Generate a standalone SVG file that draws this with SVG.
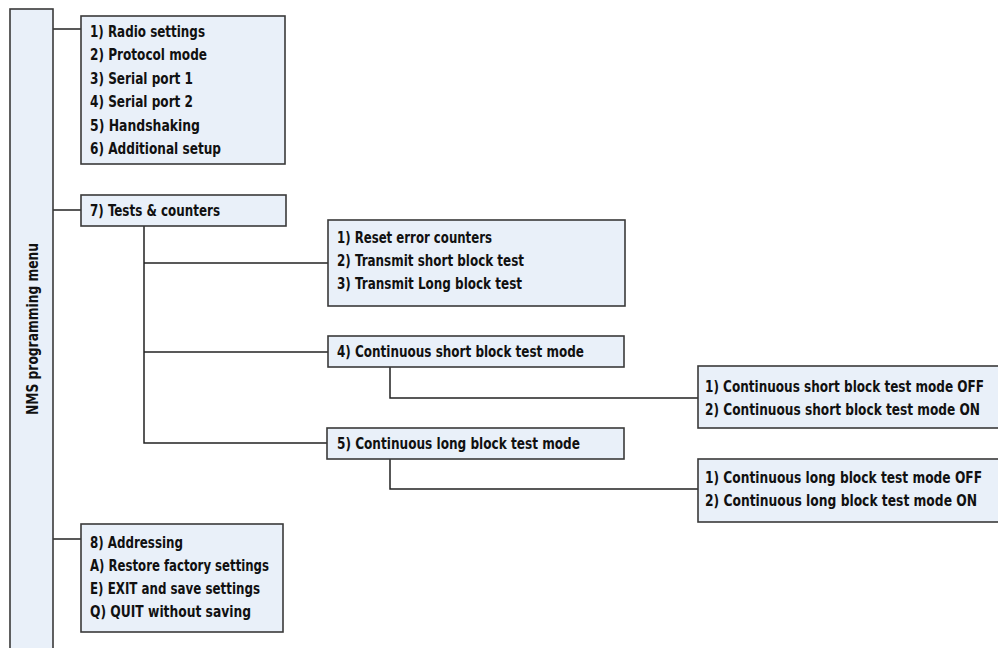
<svg xmlns="http://www.w3.org/2000/svg" width="998" height="648" viewBox="0 0 998 648">
<style>
.box{fill:#e9f0f9;stroke:#3a3a3a;stroke-width:1.6}
.t{font-family:"Liberation Sans Narrow","DejaVu Sans Condensed","DejaVu Sans",sans-serif;font-weight:bold;font-size:16px;fill:#111111}
.c{fill:none;stroke:#222;stroke-width:1.5}
</style>
<rect width="998" height="648" fill="#ffffff"/>
<g id="connectors">
<path class="c" d="M53 29H81"/>
<path class="c" d="M53 210H81"/>
<path class="c" d="M53 539H81"/>
<path class="c" d="M144 226V443H327"/>
<path class="c" d="M144 263H328"/>
<path class="c" d="M144 352H328"/>
<path class="c" d="M390 367V398H698"/>
<path class="c" d="M390 459V489H698"/>
</g>
<g id="root">
<rect class="box" x="10" y="9" width="43" height="650"/>
<text class="t" transform="translate(38,415) rotate(-90)" textLength="172" lengthAdjust="spacingAndGlyphs">NMS programming menu</text>
</g>
<g id="n-setup">
<rect class="box" x="81" y="16" width="204" height="148"/>
<text class="t" x="90" y="37" textLength="115" lengthAdjust="spacingAndGlyphs">1) Radio settings</text>
<text class="t" x="90" y="60.4" textLength="117" lengthAdjust="spacingAndGlyphs">2) Protocol mode</text>
<text class="t" x="90" y="83.8" textLength="103" lengthAdjust="spacingAndGlyphs">3) Serial port 1</text>
<text class="t" x="90" y="107.2" textLength="103" lengthAdjust="spacingAndGlyphs">4) Serial port 2</text>
<text class="t" x="90" y="130.6" textLength="110" lengthAdjust="spacingAndGlyphs">5) Handshaking</text>
<text class="t" x="90" y="154" textLength="131" lengthAdjust="spacingAndGlyphs">6) Additional setup</text>
</g>
<g id="n-tests">
<rect class="box" x="81" y="195" width="205" height="31"/>
<text class="t" x="90" y="215.5" textLength="130" lengthAdjust="spacingAndGlyphs">7) Tests &amp; counters</text>
</g>
<g id="n-reset">
<rect class="box" x="328" y="220" width="297" height="86"/>
<text class="t" x="337" y="243" textLength="155" lengthAdjust="spacingAndGlyphs">1) Reset error counters</text>
<text class="t" x="337" y="266" textLength="187" lengthAdjust="spacingAndGlyphs">2) Transmit short block test</text>
<text class="t" x="337" y="289" textLength="185" lengthAdjust="spacingAndGlyphs">3) Transmit Long block test</text>
</g>
<g id="n-cshort">
<rect class="box" x="328" y="336" width="296" height="31"/>
<text class="t" x="337" y="357" textLength="247" lengthAdjust="spacingAndGlyphs">4) Continuous short block test mode</text>
</g>
<g id="n-clong">
<rect class="box" x="327" y="428" width="297" height="31"/>
<text class="t" x="337" y="449" textLength="243" lengthAdjust="spacingAndGlyphs">5) Continuous long block test mode</text>
</g>
<g id="n-cshort-opts">
<rect class="box" x="698" y="366" width="310" height="62"/>
<text class="t" x="705" y="392" textLength="279" lengthAdjust="spacingAndGlyphs">1) Continuous short block test mode OFF</text>
<text class="t" x="705" y="415" textLength="275" lengthAdjust="spacingAndGlyphs">2) Continuous short block test mode ON</text>
</g>
<g id="n-clong-opts">
<rect class="box" x="698" y="459" width="310" height="63"/>
<text class="t" x="705" y="483" textLength="277" lengthAdjust="spacingAndGlyphs">1) Continuous long block test mode OFF</text>
<text class="t" x="705" y="506" textLength="272" lengthAdjust="spacingAndGlyphs">2) Continuous long block test mode ON</text>
</g>
<g id="n-misc">
<rect class="box" x="81" y="524" width="202" height="108"/>
<text class="t" x="90" y="548" textLength="93" lengthAdjust="spacingAndGlyphs">8) Addressing</text>
<text class="t" x="90" y="571" textLength="179" lengthAdjust="spacingAndGlyphs">A) Restore factory settings</text>
<text class="t" x="90" y="594" textLength="170" lengthAdjust="spacingAndGlyphs">E) EXIT and save settings</text>
<text class="t" x="90" y="617" textLength="161" lengthAdjust="spacingAndGlyphs">Q) QUIT without saving</text>
</g>
</svg>
